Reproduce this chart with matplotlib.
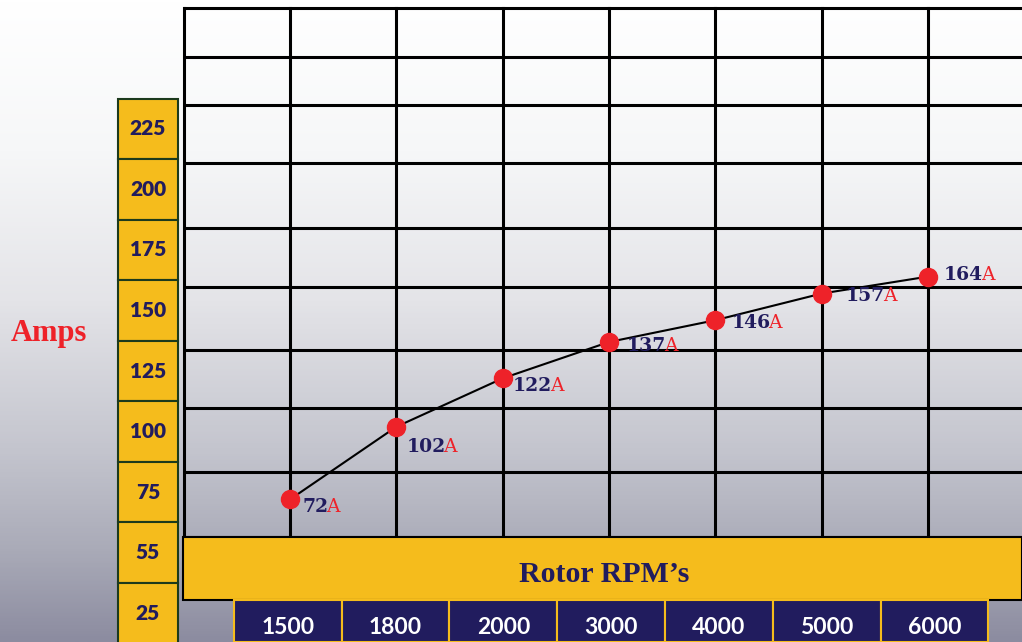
import numpy as np
import matplotlib.pyplot as plt
from matplotlib.patches import Rectangle
from matplotlib.colors import LinearSegmentedColormap

# data
rpm_labels = ["1500", "1800", "2000", "3000", "4000", "5000", "6000"]
amps = [72, 102, 122, 137, 146, 157, 164]
amp_tick_values = [225, 200, 175, 150, 125, 100, 75, 50, 25]
amp_tick_labels = ["225", "200", "175", "150", "125", "100", "75", "55", "25"]

YELLOW = "#F5BC1C"
NAVY = "#211C5E"
RED = "#EE2229"

W, H = 1022, 642
fig = plt.figure(figsize=(W / 100, H / 100), dpi=100)
ax = fig.add_axes([0, 0, 1, 1])

# pixel -> data scale: x is category index, y is amps
px0, pxstep = 290, 106.33
ax.set_xlim((0 - px0) / pxstep, (W - px0) / pxstep)
ax.set_ylim(13.14, 278.2)
ax.axis("off")

def fy(py):
    # pixel row -> axes fraction
    return 1 - py / H

# background gradient
stops = [(0, (255, 255, 255)), (150, (246, 247, 248)), (300, (228, 228, 232)),
         (450, (196, 197, 206)), (550, (170, 171, 184)), (642, (140, 140, 160))]
cmap = LinearSegmentedColormap.from_list(
    "bg", [(p / H, tuple(c / 255 for c in col)) for p, col in stops])
grad = np.linspace(0, 1, 400).reshape(-1, 1)
ax.imshow(grad, cmap=cmap, aspect="auto", extent=(0, 1, 0, 1),
          transform=ax.transAxes, zorder=0)

# table grid
hlines_px = [8, 57, 105, 163, 228, 287, 350, 408, 472, 537]
for py in hlines_px:
    ax.plot([183 / W, 1], [fy(py), fy(py)], color="black", lw=2.2,
            transform=ax.transAxes, zorder=1, solid_capstyle="butt")
xt = ax.get_xaxis_transform()
for i in range(-1, len(rpm_labels) + 1):
    ax.plot([i, i], [fy(537), fy(8)], color="black", lw=2.2,
            transform=xt, zorder=1)

# yellow RPM banner
ax.add_patch(Rectangle((183 / W, fy(600)), 1 - 183 / W, fy(537) - fy(600),
                       transform=ax.transAxes, facecolor=YELLOW,
                       edgecolor="black", lw=1.5, zorder=2))
ax.text(604 / W, fy(574), "Rotor RPM\u2019s", transform=ax.transAxes,
        ha="center", va="center", fontsize=21.5, fontweight="bold",
        family="Liberation Serif", color=NAVY, zorder=3)

# navy x label boxes
box_w = 1.0135
for i, lab in enumerate(rpm_labels):
    left = -0.527 + i * box_w
    ax.add_patch(Rectangle((left, 0), box_w, fy(600), transform=xt,
                           facecolor=NAVY, edgecolor=YELLOW, lw=1.5, zorder=2))
    ax.text(left + box_w / 2, fy(627), lab, transform=xt, ha="center",
            va="center", fontsize=16.5, fontweight="bold", family="Lato",
            color="white", zorder=3)

# yellow amps column
yt = ax.get_yaxis_transform()
for v, lab in zip(amp_tick_values, amp_tick_labels):
    ax.add_patch(Rectangle((118 / W, v - 12.5), 60 / W, 25, transform=yt,
                           facecolor=YELLOW, edgecolor="#1C3A1C", lw=1.5,
                           zorder=2))
    ax.text(148 / W, v, lab, transform=yt, ha="center", va="center",
            fontsize=15, fontweight="heavy", family="Lato", color=NAVY,
            zorder=3)

ax.text(49 / W, fy(334), "Amps", transform=ax.transAxes, ha="center",
        va="center", fontsize=22, fontweight="bold",
        family="Liberation Serif", color=RED)

# series
x = np.arange(len(amps))
ax.plot(x, amps, color="black", lw=1.5, zorder=4)
ax.plot(x, amps, "o", color=RED, markersize=13, zorder=5)

label_offsets = [(12, -8), (10, -20), (10, -8), (18, -4), (16, -3), (24, -2), (16, 2)]
for xi, v, off in zip(x, amps, label_offsets):
    t = ax.annotate(str(v), (xi, v), xytext=off, textcoords="offset pixels",
                    ha="left", va="center", fontsize=13.5, fontweight="heavy",
                    family="DejaVu Serif", color=NAVY, zorder=6)
    ax.annotate("A", xy=(1, 0.5), xycoords=t, xytext=(-2, 0),
                textcoords="offset pixels", ha="left", va="center",
                fontsize=13.5, family="DejaVu Serif", color=RED, zorder=6)

fig.savefig("out.png", dpi=100)
